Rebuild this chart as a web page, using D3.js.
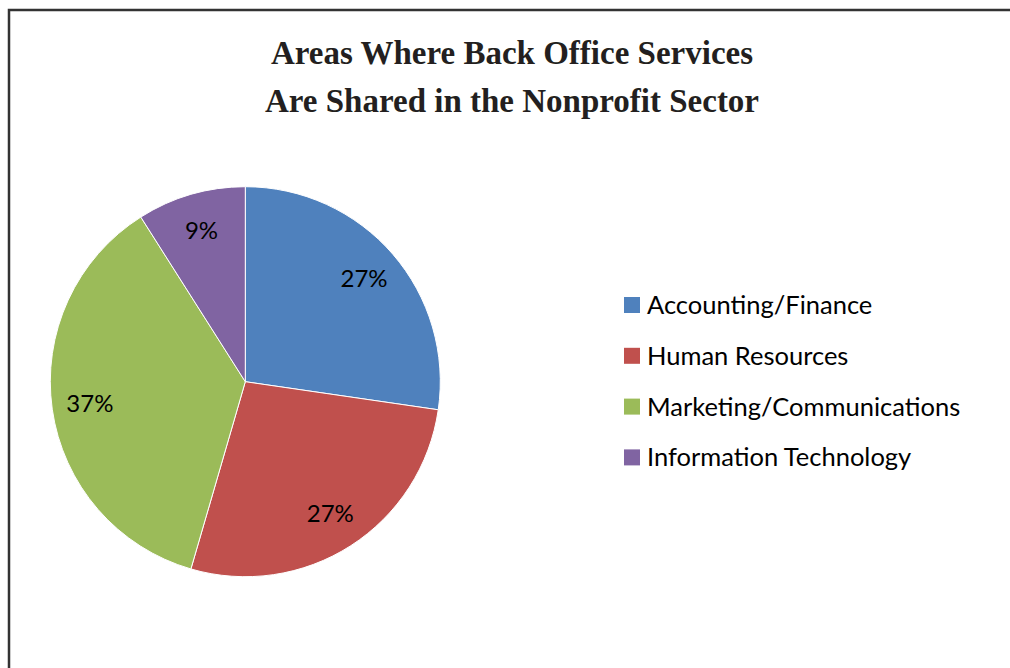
<!DOCTYPE html>
<html><head><meta charset="utf-8">
<script src="https://cdn.jsdelivr.net/npm/d3@7"></script>
<style>html,body{margin:0;padding:0;background:#fff;}svg{display:block;}</style>
</head><body>
<svg id="chart" width="1010" height="668"></svg>
<script>
const categories = ["Accounting/Finance", "Human Resources", "Marketing/Communications", "Information Technology"];
const values = [27.3, 27.2, 36.5, 9.0];
const labels = ["27%", "27%", "37%", "9%"];
const colors = ["#4F81BD", "#C0504D", "#9BBB59", "#8064A2"];
const titleLines = ["Areas Where Back Office Services", "Are Shared in the Nonprofit Sector"];

const svg = d3.select("#chart");
svg.append("path").attr("d", "M9,668 V10 H1010").attr("fill", "none").attr("stroke", "#333").attr("stroke-width", 2.5);

svg.append("g").selectAll("text").data(titleLines).join("text")
  .attr("x", 512).attr("y", (d, i) => 64 + i * 48)
  .attr("text-anchor", "middle")
  .attr("font-family", "'Liberation Serif', 'DejaVu Serif', serif")
  .attr("font-weight", "bold").attr("font-size", 33).attr("fill", "#231f20")
  .text(d => d);

const cx = 245.3, cy = 381.7, R = 195;
const pie = d3.pie().sort(null).value(d => d)(values);
const arc = d3.arc().innerRadius(0).outerRadius(R);
const labelArc = d3.arc().innerRadius(157).outerRadius(157);
const g = svg.append("g").attr("transform", `translate(${cx},${cy})`);
g.selectAll("path").data(pie).join("path")
  .attr("d", arc).attr("fill", (d, i) => colors[i])
  .attr("stroke", "#fff").attr("stroke-width", 1);
g.selectAll("text").data(pie).join("text")
  .attr("transform", d => `translate(${labelArc.centroid(d)})`)
  .attr("text-anchor", "middle").attr("dy", "0.35em")
  .attr("font-family", "Lato, 'Open Sans', sans-serif").attr("font-size", 24).attr("fill", "#000")
  .text((d, i) => labels[i]);

const lg = svg.append("g").attr("transform", "translate(624,305)");
const rows = lg.selectAll("g").data(categories).join("g")
  .attr("transform", (d, i) => `translate(0,${i * 50.8})`);
rows.append("rect").attr("x", 0).attr("y", -8).attr("width", 16).attr("height", 16)
  .attr("fill", (d, i) => colors[i]);
rows.append("text").attr("x", 23).attr("y", 0).attr("dy", "0.35em")
  .attr("font-family", "Lato, 'Open Sans', sans-serif").attr("font-size", 25.5).attr("fill", "#000")
  .text(d => d);
</script>
</body></html>
